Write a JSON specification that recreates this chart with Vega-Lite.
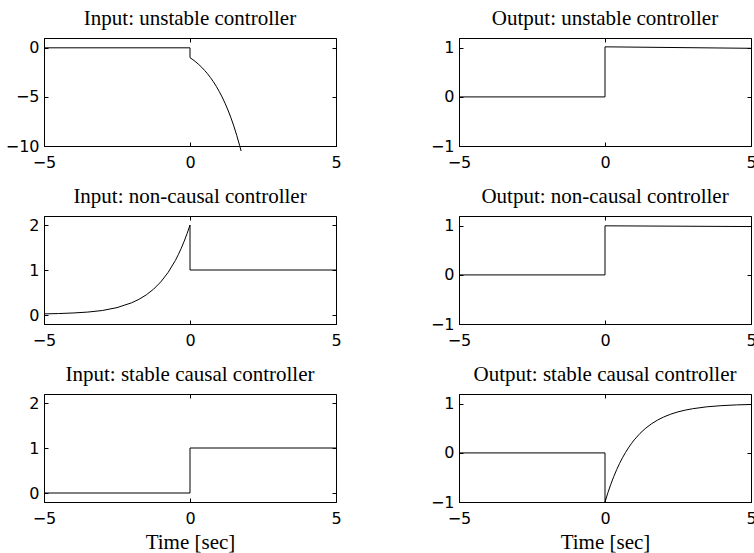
{
  "$schema": "https://vega.github.io/schema/vega-lite/v6.json",
  "background": "white",
  "padding": {"left": 4, "top": 7, "right": 0, "bottom": 0},
  "config": {
    "view": {"stroke": "black", "strokeWidth": 1},
    "axis": {
      "grid": false,
      "domainColor": "black",
      "tickColor": "black",
      "labelColor": "black",
      "titleColor": "black",
      "tickSize": -4,
      "labelFont": "DejaVu Sans",
      "labelFontSize": 16,
      "labelFlush": false,
      "titleFont": "Liberation Serif",
      "titleFontSize": 21,
      "titleFontWeight": "normal"
    },
    "axisX": {"labelPadding": 12},
    "axisY": {"labelPadding": 9},
    "title": {"font": "Liberation Serif", "fontSize": 21, "fontWeight": "normal", "color": "black", "baseline": "alphabetic", "offset": 9},
    "line": {"color": "black", "strokeWidth": 1, "clip": true}
  },
  "datasets": {
    "in1": [
      {"t": -5, "u": 0}, {"t": 0, "u": 0}, {"t": 0, "u": -1},
      {"t": 0.1, "u": -1.21}, {"t": 0.2, "u": -1.44}, {"t": 0.3, "u": -1.7}, {"t": 0.4, "u": -1.98},
      {"t": 0.5, "u": -2.3}, {"t": 0.6, "u": -2.64}, {"t": 0.7, "u": -3.03}, {"t": 0.8, "u": -3.45},
      {"t": 0.9, "u": -3.92}, {"t": 1.0, "u": -4.44}, {"t": 1.1, "u": -5.01}, {"t": 1.2, "u": -5.64},
      {"t": 1.3, "u": -6.34}, {"t": 1.4, "u": -7.11}, {"t": 1.5, "u": -7.96}, {"t": 1.6, "u": -8.91},
      {"t": 1.7, "u": -9.95}, {"t": 1.75, "u": -10.51}
    ],
    "out1": [
      {"t": -5, "u": 0}, {"t": 0, "u": 0}, {"t": 0, "u": 1.02}, {"t": 5, "u": 0.99}
    ],
    "in2": [
      {"t": -5, "u": 0.025}, {"t": -4.5, "u": 0.032}, {"t": -4, "u": 0.045}, {"t": -3.5, "u": 0.065},
      {"t": -3, "u": 0.1}, {"t": -2.5, "u": 0.164}, {"t": -2, "u": 0.271}, {"t": -1.75, "u": 0.348},
      {"t": -1.5, "u": 0.446}, {"t": -1.25, "u": 0.573}, {"t": -1, "u": 0.736}, {"t": -0.75, "u": 0.945},
      {"t": -0.5, "u": 1.213}, {"t": -0.4, "u": 1.341}, {"t": -0.3, "u": 1.482}, {"t": -0.2, "u": 1.638},
      {"t": -0.1, "u": 1.81}, {"t": 0, "u": 2}, {"t": 0, "u": 1}, {"t": 5, "u": 1}
    ],
    "out2": [
      {"t": -5, "u": 0}, {"t": 0, "u": 0}, {"t": 0, "u": 1}, {"t": 5, "u": 0.985}
    ],
    "in3": [
      {"t": -5, "u": 0}, {"t": 0, "u": 0}, {"t": 0, "u": 1}, {"t": 5, "u": 1}
    ],
    "out3": [
      {"t": -5, "u": 0}, {"t": 0, "u": 0}, {"t": 0, "u": -1},
      {"t": 0.1, "u": -0.81}, {"t": 0.2, "u": -0.638}, {"t": 0.3, "u": -0.482}, {"t": 0.4, "u": -0.341},
      {"t": 0.5, "u": -0.213}, {"t": 0.6, "u": -0.098}, {"t": 0.7, "u": 0.007}, {"t": 0.8, "u": 0.101},
      {"t": 0.9, "u": 0.187}, {"t": 1.0, "u": 0.264}, {"t": 1.2, "u": 0.398}, {"t": 1.4, "u": 0.507},
      {"t": 1.6, "u": 0.596}, {"t": 1.8, "u": 0.669}, {"t": 2.0, "u": 0.729}, {"t": 2.25, "u": 0.789},
      {"t": 2.5, "u": 0.836}, {"t": 2.75, "u": 0.872}, {"t": 3, "u": 0.9}, {"t": 3.5, "u": 0.94},
      {"t": 4, "u": 0.963}, {"t": 4.5, "u": 0.978}, {"t": 5, "u": 0.987}
    ]
  },
  "columns": 2,
  "spacing": {"row": 70, "column": 123},
  "bounds": "flush",
  "concat": [
    {
      "title": "Input: unstable controller",
      "width": 292, "height": 108,
      "data": {"name": "in1"},
      "resolve": {"axis": {"x": "independent", "y": "independent"}},
      "layer": [
        {"mark": "line",
         "encoding": {
           "x": {"field": "t", "type": "quantitative", "scale": {"domain": [-5, 5]}, "axis": {"values": [-5, 0, 5], "title": null}},
           "y": {"field": "u", "type": "quantitative", "scale": {"domain": [-10, 1]}, "axis": {"values": [-10, -5, 0], "title": null}}}},
        {"mark": {"type": "line", "opacity": 0},
         "encoding": {
           "x": {"field": "t", "type": "quantitative", "axis": {"orient": "top", "values": [-5, 0, 5], "labels": false, "domain": false, "title": null}},
           "y": {"field": "u", "type": "quantitative", "axis": {"orient": "right", "values": [-10, -5, 0], "labels": false, "domain": false, "title": null}}}}
      ]
    },
    {
      "title": "Output: unstable controller",
      "width": 292, "height": 108,
      "data": {"name": "out1"},
      "resolve": {"axis": {"x": "independent", "y": "independent"}},
      "layer": [
        {"mark": "line",
         "encoding": {
           "x": {"field": "t", "type": "quantitative", "scale": {"domain": [-5, 5]}, "axis": {"values": [-5, 0, 5], "title": null}},
           "y": {"field": "u", "type": "quantitative", "scale": {"domain": [-1, 1.1]}, "axis": {"values": [-1, 0, 1], "title": null}}}},
        {"mark": {"type": "line", "opacity": 0},
         "encoding": {
           "x": {"field": "t", "type": "quantitative", "axis": {"orient": "top", "values": [-5, 0, 5], "labels": false, "domain": false, "title": null}},
           "y": {"field": "u", "type": "quantitative", "axis": {"orient": "right", "values": [-1, 0, 1], "labels": false, "domain": false, "title": null}}}}
      ]
    },
    {
      "title": "Input: non-causal controller",
      "width": 292, "height": 108,
      "data": {"name": "in2"},
      "resolve": {"axis": {"x": "independent", "y": "independent"}},
      "layer": [
        {"mark": "line",
         "encoding": {
           "x": {"field": "t", "type": "quantitative", "scale": {"domain": [-5, 5]}, "axis": {"values": [-5, 0, 5], "title": null}},
           "y": {"field": "u", "type": "quantitative", "scale": {"domain": [-0.08, 2.05]}, "axis": {"values": [0, 1, 2], "title": null}}}},
        {"mark": {"type": "line", "opacity": 0},
         "encoding": {
           "x": {"field": "t", "type": "quantitative", "axis": {"orient": "top", "values": [-5, 0, 5], "labels": false, "domain": false, "title": null}},
           "y": {"field": "u", "type": "quantitative", "axis": {"orient": "right", "values": [0, 1, 2], "labels": false, "domain": false, "title": null}}}}
      ]
    },
    {
      "title": "Output: non-causal controller",
      "width": 292, "height": 108,
      "data": {"name": "out2"},
      "resolve": {"axis": {"x": "independent", "y": "independent"}},
      "layer": [
        {"mark": "line",
         "encoding": {
           "x": {"field": "t", "type": "quantitative", "scale": {"domain": [-5, 5]}, "axis": {"values": [-5, 0, 5], "title": null}},
           "y": {"field": "u", "type": "quantitative", "scale": {"domain": [-1, 1.1]}, "axis": {"values": [-1, 0, 1], "title": null}}}},
        {"mark": {"type": "line", "opacity": 0},
         "encoding": {
           "x": {"field": "t", "type": "quantitative", "axis": {"orient": "top", "values": [-5, 0, 5], "labels": false, "domain": false, "title": null}},
           "y": {"field": "u", "type": "quantitative", "axis": {"orient": "right", "values": [-1, 0, 1], "labels": false, "domain": false, "title": null}}}}
      ]
    },
    {
      "title": "Input: stable causal controller",
      "width": 292, "height": 108,
      "data": {"name": "in3"},
      "resolve": {"axis": {"x": "independent", "y": "independent"}},
      "layer": [
        {"mark": "line",
         "encoding": {
           "x": {"field": "t", "type": "quantitative", "scale": {"domain": [-5, 5]}, "axis": {"values": [-5, 0, 5], "title": "Time [sec]", "titlePadding": 5}},
           "y": {"field": "u", "type": "quantitative", "scale": {"domain": [-0.08, 2.05]}, "axis": {"values": [0, 1, 2], "title": null}}}},
        {"mark": {"type": "line", "opacity": 0},
         "encoding": {
           "x": {"field": "t", "type": "quantitative", "axis": {"orient": "top", "values": [-5, 0, 5], "labels": false, "domain": false, "title": null}},
           "y": {"field": "u", "type": "quantitative", "axis": {"orient": "right", "values": [0, 1, 2], "labels": false, "domain": false, "title": null}}}}
      ]
    },
    {
      "title": "Output: stable causal controller",
      "width": 292, "height": 108,
      "data": {"name": "out3"},
      "resolve": {"axis": {"x": "independent", "y": "independent"}},
      "layer": [
        {"mark": "line",
         "encoding": {
           "x": {"field": "t", "type": "quantitative", "scale": {"domain": [-5, 5]}, "axis": {"values": [-5, 0, 5], "title": "Time [sec]", "titlePadding": 5}},
           "y": {"field": "u", "type": "quantitative", "scale": {"domain": [-1, 1.1]}, "axis": {"values": [-1, 0, 1], "title": null}}}},
        {"mark": {"type": "line", "opacity": 0},
         "encoding": {
           "x": {"field": "t", "type": "quantitative", "axis": {"orient": "top", "values": [-5, 0, 5], "labels": false, "domain": false, "title": null}},
           "y": {"field": "u", "type": "quantitative", "axis": {"orient": "right", "values": [-1, 0, 1], "labels": false, "domain": false, "title": null}}}}
      ]
    }
  ]
}
